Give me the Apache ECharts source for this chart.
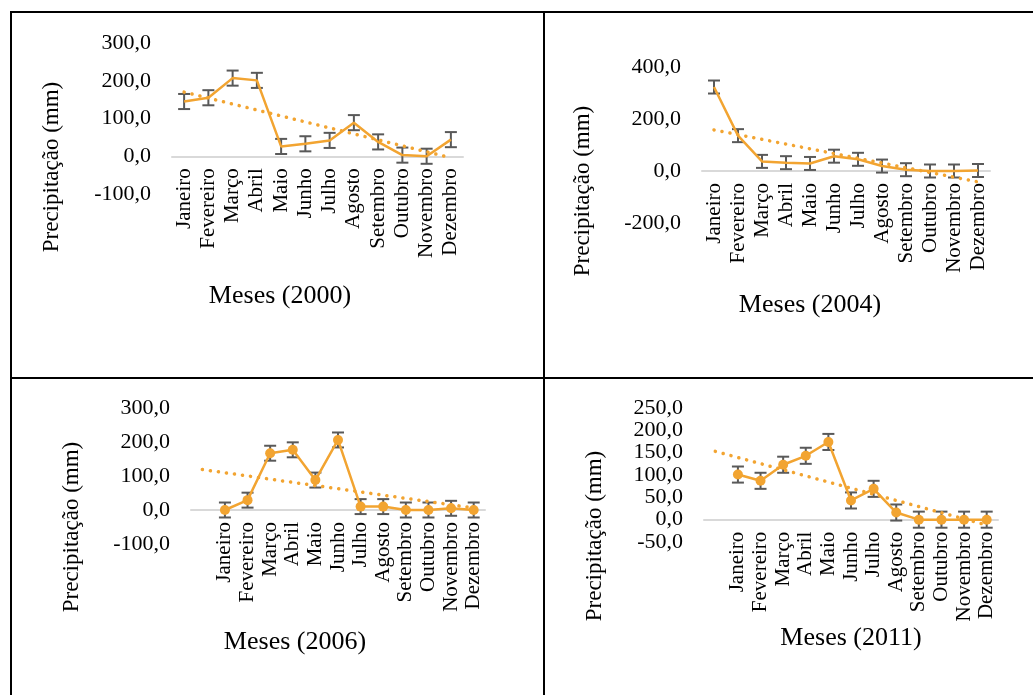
<!DOCTYPE html>
<html>
<head>
<meta charset="utf-8">
<script src="https://cdn.jsdelivr.net/npm/echarts@6/dist/echarts.min.js"></script>
<style>
  html, body { margin: 0; padding: 0; background: #fff; }
  #grafico { width: 1033px; height: 695px; }
</style>
</head>
<body>
<div id="grafico"></div>
<script>
// meses do ano (eixo x)
var meses = ['Janeiro', 'Fevereiro', 'Março', 'Abril', 'Maio', 'Junho', 'Julho', 'Agosto', 'Setembro', 'Outubro', 'Novembro', 'Dezembro'];

// precipitação mensal (mm)
var chuva2000 = [145, 155, 207, 201, 26, 33, 42, 89, 38, 3, 0, 44];
var chuva2004 = [323, 136, 37, 32, 29, 57, 45, 19, 5, 0, 0, 2];
var chuva2006 = [0, 29, 167, 177, 88, 206, 10, 10, 0, 0, 5, 0];
var chuva2011 = [101, 87, 123, 143, 174, 43, 69, 16, 0, 0, 0, 0];

// barras de erro (valor fixo, mm)
var erros = [20, 25, 22, 18];

// linha de tendência: valor no início e no fim
var tend2000 = [170, -4];
var tend2004 = [158, -42];
var tend2006 = [119, 6];
var tend2011 = [153, -12];

// eixo y: min, max, intervalo
var eixo2000 = [-100, 300, 100];
var eixo2004 = [-200, 400, 200];
var eixo2006 = [-100, 300, 100];
var eixo2011 = [-50, 250, 50];

var anos = ['2000', '2004', '2006', '2011'];

var LARANJA = '#F2A431';
var CINZA = '#595959';
var FONTE = "'Liberation Serif', 'Times New Roman', serif";

// posição de cada painel na página
var grades = [
    {left: 172, top: 43, width: 291, height: 151},
    {left: 702, top: 67, width: 288, height: 156},
    {left: 191, top: 408, width: 294, height: 136},
    {left: 704, top: 408, width: 294, height: 134}
];
var nomesY = [[52, 167], [583, 191], [72, 527], [595, 536]];
var nomesX = [[280, 296], [810, 305], [295, 642], [851, 638]];

var paineis = [
    {dados: chuva2000, tend: tend2000, eixo: eixo2000, vazio: false, marcador: false},
    {dados: chuva2004, tend: tend2004, eixo: eixo2004, vazio: false, marcador: false},
    {dados: chuva2006, tend: tend2006, eixo: eixo2006, vazio: true, marcador: true},
    {dados: chuva2011, tend: tend2011, eixo: eixo2011, vazio: true, marcador: true}
];

var fmt = function (v) { return v.toFixed(1).replace('.', ','); };

var opcoes = {
    animation: false,
    grid: [], xAxis: [], yAxis: [], series: [], graphic: []
};

for (var i = 0; i < paineis.length; i++) {
    var p = paineis[i];
    var off = p.vazio ? 1 : 0;
    var cats = p.vazio ? [''].concat(meses) : meses;
    var err = erros[i];
    // rótulos do eixo x ficam logo abaixo da linha do zero
    var distZero = grades[i].height * (0 - p.eixo[0]) / (p.eixo[1] - p.eixo[0]);

    opcoes.grid.push(grades[i]);
    opcoes.xAxis.push({
        type: 'category', gridIndex: i, data: cats,
        axisLine: {onZero: true, lineStyle: {color: '#D9D9D9', width: 2}},
        axisTick: {show: false},
        axisLabel: {rotate: 90, margin: 12 - distZero, interval: 0, fontSize: 21, fontFamily: FONTE, color: '#000'}
    });
    opcoes.yAxis.push({
        type: 'value', gridIndex: i,
        min: p.eixo[0], max: p.eixo[1], interval: p.eixo[2],
        splitLine: {show: false}, axisLine: {show: false}, axisTick: {show: false},
        axisLabel: {formatter: fmt, margin: 21, fontSize: 22, fontFamily: FONTE, color: '#000'}
    });

    // barras de erro
    opcoes.series.push({
        type: 'custom', xAxisIndex: i, yAxisIndex: i, z: 2,
        encode: {x: 0, y: [1, 2]},
        data: p.dados.map(function (v, k) { return [k + off, v - err, v + err]; }),
        renderItem: function (params, api) {
            var a = api.coord([api.value(0), api.value(1)]);
            var b = api.coord([api.value(0), api.value(2)]);
            var st = {stroke: CINZA, lineWidth: 2};
            return {
                type: 'group',
                children: [
                    {type: 'line', shape: {x1: a[0], y1: a[1], x2: b[0], y2: b[1]}, style: st},
                    {type: 'line', shape: {x1: a[0] - 6, y1: a[1], x2: a[0] + 6, y2: a[1]}, style: st},
                    {type: 'line', shape: {x1: b[0] - 6, y1: b[1], x2: b[0] + 6, y2: b[1]}, style: st}
                ]
            };
        }
    });

    // precipitação + tendência
    opcoes.series.push({
        type: 'line', xAxisIndex: i, yAxisIndex: i, z: 3,
        data: p.dados.map(function (v, k) { return [k + off, v]; }),
        showSymbol: p.marcador, symbol: 'circle', symbolSize: 10,
        itemStyle: {color: LARANJA},
        lineStyle: {color: LARANJA, width: 2.5},
        markLine: {
            silent: true, symbol: ['none', 'none'], label: {show: false},
            lineStyle: {color: LARANJA, width: 3.5, type: [0.1, 8], cap: 'round'},
            data: [[{coord: [0, p.tend[0]]}, {coord: [cats.length - 1, p.tend[1]]}]]
        }
    });

    opcoes.graphic.push({
        type: 'text', x: nomesY[i][0], y: nomesY[i][1], rotation: Math.PI / 2,
        style: {text: 'Precipitação (mm)', font: '23px ' + FONTE, fill: '#000', align: 'center', verticalAlign: 'middle'}
    });
    opcoes.graphic.push({
        type: 'text', x: nomesX[i][0], y: nomesX[i][1],
        style: {text: 'Meses (' + anos[i] + ')', font: '26px ' + FONTE, fill: '#000', align: 'center', verticalAlign: 'middle'}
    });
}

// bordas da tabela
var bordas = [[10, 12, 1033, 12], [11, 11, 11, 695], [544, 12, 544, 695], [11, 378, 1033, 378]];
bordas.forEach(function (b) {
    opcoes.graphic.push({type: 'line', shape: {x1: b[0], y1: b[1], x2: b[2], y2: b[3]}, style: {stroke: '#000', lineWidth: 2}});
});

var chart = echarts.init(document.getElementById('grafico'));
chart.setOption(opcoes);
</script>
</body>
</html>
